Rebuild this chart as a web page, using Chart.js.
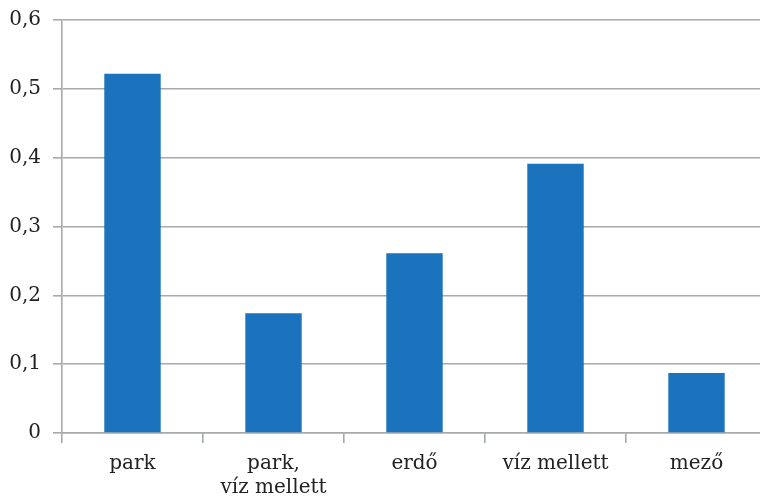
<!DOCTYPE html>
<html>
<head>
<meta charset="utf-8">
<script src="https://cdn.jsdelivr.net/npm/chart.js@4"></script>
<style>
  html, body { margin: 0; padding: 0; background: #fff; overflow: hidden; }
  #wrap { width: 760px; height: 499px; overflow: hidden; }
</style>
</head>
<body>
<div id="wrap"><canvas id="myChart" width="767" height="499"></canvas></div>
<script>
const categories = ["park", ["park,", "víz mellett"], "erdő", "víz mellett", "mező"];
const values = [0.522, 0.174, 0.261, 0.391, 0.087];
const yTicks = [0, 0.1, 0.2, 0.3, 0.4, 0.5, 0.6];

const gridColor = "#a6aaa9";
const textColor = "#222";
const font = { family: "'DejaVu Serif', 'Liberation Serif', serif", size: 20, lineHeight: 1.2 };

const ctx = document.getElementById("myChart");
const myChart = new Chart(ctx, {
  type: "bar",
  data: {
    labels: categories,
    datasets: [
      {
        data: values,
        backgroundColor: "#1a73bc",
        borderWidth: 0,
        barPercentage: 0.4,
        categoryPercentage: 1,
      },
    ],
  },
  options: {
    responsive: false,
    animation: false,
    layout: { padding: { top: 20, right: 0, bottom: 0, left: 0 } },
    plugins: { legend: { display: false }, tooltip: { enabled: false } },
    scales: {
      y: {
        min: 0,
        max: 0.6,
        afterFit: (scale) => {
          scale.width = 62;
          scale.paddingTop = 0;
          scale.paddingBottom = 0;
        },
        afterBuildTicks: (scale) => { scale.ticks = yTicks.map((v) => ({ value: v })); },
        ticks: {
          color: textColor,
          font: font,
          padding: 12,
          callback: (v) => (v === 0 ? "0" : v.toFixed(1).replace(".", ",")),
        },
        grid: { color: gridColor, lineWidth: 1.6, tickLength: 9 },
        border: { color: gridColor, width: 1.6 },
      },
      x: {
        afterFit: (scale) => { scale.height = 66; },
        ticks: { color: textColor, font: font, padding: 9, maxRotation: 0 },
        grid: { offset: true, drawOnChartArea: false, color: gridColor, lineWidth: 1.6, tickLength: 10 },
        border: { color: gridColor, width: 1.6 },
      },
    },
  },
});
</script>
</body>
</html>
